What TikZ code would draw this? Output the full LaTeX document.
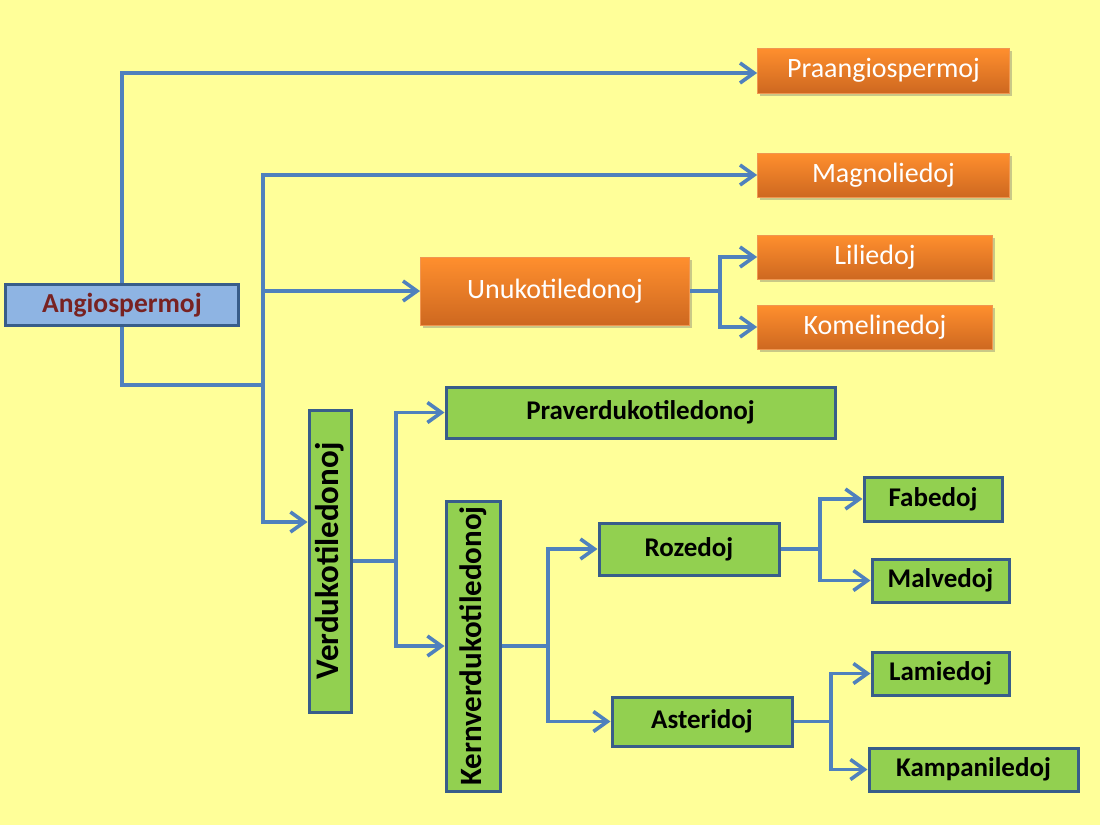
\documentclass[tikz,border=0pt]{standalone}
\usepackage{fontspec}
\setmainfont{Carlito}
\usetikzlibrary{arrows.meta,shadows,calc}
\definecolor{bgyellow}{RGB}{255,255,153}
\definecolor{conncol}{RGB}{79,129,189}
\definecolor{bordblue}{RGB}{56,93,138}
\definecolor{angfill}{RGB}{142,180,227}
\definecolor{angtext}{RGB}{120,34,34}
\definecolor{greenfill}{RGB}{146,208,80}
\definecolor{orangetop}{RGB}{255,143,46}
\definecolor{orangebot}{RGB}{206,104,32}
\definecolor{orangeedge}{RGB}{240,150,80}
\tikzset{
  boxtext/.style={font=\fontsize{28}{32}\selectfont, inner sep=0pt, align=center},
  angbox/.style={boxtext, draw=bordblue, line width=3pt, fill=angfill, text=angtext, font=\fontsize{27.5}{32}\selectfont\bfseries},
  orbox/.style={boxtext, draw=orangeedge, line width=0.8pt, top color=orangetop, bottom color=orangebot, text=white,
    drop shadow={shadow xshift=2pt, shadow yshift=-3pt, opacity=0.35, fill=black!60}},
  grbox/.style={boxtext, draw=bordblue, line width=3pt, fill=greenfill, text=black, font=\fontsize{27}{32}\selectfont\bfseries},
  conn/.style={draw=conncol, line width=3.6pt},
  arr/.style={conn, -{Straight Barb[length=14pt, width=20pt, line width=3.6pt]}},
}
\begin{document}
\begin{tikzpicture}[x=1pt,y=-1pt]
\fill[bgyellow] (0,0) rectangle (1100,825);
\useasboundingbox (0,0) rectangle (1100,825);

% nodes
\node[angbox, minimum width=233, minimum height=41] (ang) at (122,305) {Angiospermoj};
\node[orbox, minimum width=252, minimum height=45] (pra) at (883.5,70.5) {Praangiospermoj};
\node[orbox, minimum width=252, minimum height=44] (mag) at (883.5,175) {Magnoliedoj};
\node[orbox, minimum width=269, minimum height=68] (unu) at (555,291) {Unukotiledonoj};
\node[orbox, minimum width=235, minimum height=44] (lil) at (875,257) {Liliedoj};
\node[orbox, minimum width=235, minimum height=44] (kom) at (875,327) {Komelinedoj};
\node[grbox, minimum width=389, minimum height=51] (prav) at (640.5,412.5) {Praverdukotiledonoj};
\node[grbox, minimum width=42, minimum height=302, font=\fontsize{33}{36}\selectfont\bfseries] (verd) at (330,561) {\rotatebox{90}{Verdukotiledonoj}};
\node[grbox, minimum width=54, minimum height=290, font=\fontsize{31}{36}\selectfont\bfseries] (kern) at (473,646) {\rotatebox{90}{Kernverdukotiledonoj}};
\node[grbox, minimum width=180, minimum height=52] (roz) at (689,549) {Rozedoj};
\node[grbox, minimum width=138, minimum height=44] (fab) at (933,499) {Fabedoj};
\node[grbox, minimum width=137, minimum height=43] (mal) at (940.5,580.5) {Malvedoj};
\node[grbox, minimum width=180, minimum height=49] (ast) at (702,721.5) {Asteridoj};
\node[grbox, minimum width=137, minimum height=43] (lam) at (940.5,673.5) {Lamiedoj};
\node[grbox, minimum width=209, minimum height=43] (kam) at (973.5,769.5) {Kampaniledoj};

% junctions
\coordinate (ja) at (263,385);
\coordinate (ju) at (720,291);
\coordinate (jv) at (396,561);
\coordinate (jk) at (548,646);
\coordinate (jr) at (820,549);
\coordinate (js) at (831,721.5);

% connectors
\draw[arr] (ang.north) |- ($(pra.west)+(0,2.5)$);
\draw[conn] (ang.south) |- (ja);
\draw[arr] (ja) |- (mag.west);
\draw[arr] (ja) |- (unu.west);
\draw[arr] (ja) |- ($(verd.west)+(0,-39)$);
\draw[conn] (unu.east) -- (ju);
\draw[arr] (ju) |- (lil.west);
\draw[arr] (ju) |- (kom.west);
\draw[conn] (verd.east) -- (jv);
\draw[arr] (jv) |- (prav.west);
\draw[arr] (jv) |- (kern.west);
\draw[conn] (kern.east) -- (jk);
\draw[arr] (jk) |- (roz.west);
\draw[arr] (jk) |- (ast.west);
\draw[conn] (roz.east) -- (jr);
\draw[arr] (jr) |- (fab.west);
\draw[arr] (jr) |- (mal.west);
\draw[conn] (ast.east) -- (js);
\draw[arr] (js) |- (lam.west);
\draw[arr] (js) |- (kam.west);
\end{tikzpicture}
\end{document}
